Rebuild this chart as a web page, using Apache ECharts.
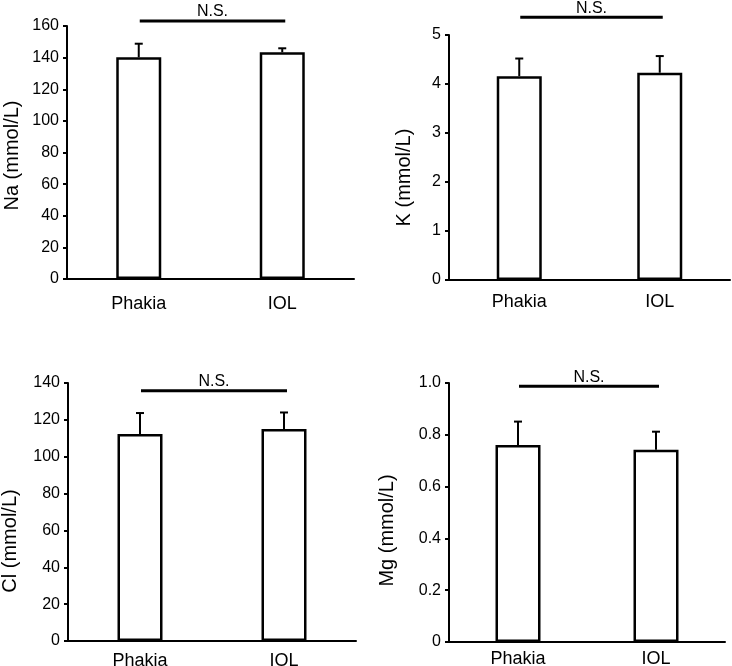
<!DOCTYPE html>
<html>
<head>
    <meta charset="utf-8">
    <title>Electrolytes</title>
    <script src="https://cdn.jsdelivr.net/npm/echarts@6/dist/echarts.min.js"></script>
    <style>
        html, body { margin: 0; padding: 0; background: #fff; }
        #main { width: 732px; height: 666px; }
    </style>
</head>
<body>
<div id="main"></div>
<script>
    // data
    var groups = ['Phakia', 'IOL'];

    var naMean = [140.2, 143.4];
    var naErr = [8.6, 2.5];

    var kMean = [4.16, 4.23];
    var kErr = [0.36, 0.34];

    var clMean = [112.3, 115.1];
    var clErr = [11.4, 8.9];

    var mgMean = [0.761, 0.742];
    var mgErr = [0.09, 0.07];

    // height of the N.S. bracket, in axis units
    var nsLevel = [163.2, 5.36, 135.8, 0.987];

    var panels = [
        {name: 'Na (mmol/L)', mean: naMean, err: naErr, max: 160, interval: 20,
            grid: {left: 67, top: 26, width: 287, height: 253}, nameGap: 45, shift: 3, catMargin: 16},
        {name: 'K (mmol/L)', mean: kMean, err: kErr, max: 5, interval: 1,
            grid: {left: 449, top: 35, width: 281, height: 245}, nameGap: 35, shift: 20, catMargin: 13},
        {name: 'Cl (mmol/L)', mean: clMean, err: clErr, max: 140, interval: 20,
            grid: {left: 68, top: 383, width: 288, height: 258}, nameGap: 48, shift: 29, catMargin: 11},
        {name: 'Mg (mmol/L)', mean: mgMean, err: mgErr, max: 1, interval: 0.2,
            grid: {left: 449, top: 383, width: 276, height: 259}, nameGap: 52, shift: 18, catMargin: 8}
    ];

    var font = '"Liberation Sans", Arial, sans-serif';

    function errorItem(params, api) {
        var x = api.value(0);
        var y = api.value(1);
        var e = api.value(2);
        var base = api.coord([x, y]);
        var top = api.coord([x, y + e]);
        return {
            type: 'group',
            children: [
                {type: 'line', shape: {x1: top[0], y1: top[1], x2: base[0], y2: base[1]},
                    style: {stroke: '#000', lineWidth: 2}},
                {type: 'line', shape: {x1: top[0] - 4, y1: top[1], x2: top[0] + 4, y2: top[1]},
                    style: {stroke: '#000', lineWidth: 2}}
            ]
        };
    }

    function nsItem(params, api) {
        var lv = api.value(2);
        var a = api.coord([api.value(0), lv]);
        var b = api.coord([api.value(1), lv]);
        return {
            type: 'group',
            children: [
                {type: 'line', shape: {x1: a[0] + 1, y1: a[1], x2: b[0] + 3, y2: b[1]},
                    style: {stroke: '#000', lineWidth: 3}},
                {type: 'text', x: (a[0] + b[0]) / 2 + 2, y: a[1] - 9,
                    style: {text: 'N.S.', font: '16px ' + font, fill: '#000',
                        textAlign: 'center', textVerticalAlign: 'middle'}}
            ]
        };
    }

    var grid = [], xAxis = [], yAxis = [], series = [];

    panels.forEach(function (p, i) {
        grid.push(Object.assign({outerBoundsMode: 'none', containLabel: false}, p.grid));

        xAxis.push({
            type: 'category', gridIndex: i, data: groups,
            axisLine: {show: true, lineStyle: {color: '#000', width: 2}},
            axisTick: {show: false},
            axisLabel: {color: '#000', fontSize: 18, fontFamily: font, margin: p.catMargin},
            splitLine: {show: false}
        });

        yAxis.push({
            type: 'value', gridIndex: i, min: 0, max: p.max, interval: p.interval,
            name: p.name, nameLocation: 'middle', nameGap: p.nameGap, nameRotate: 90,
            nameTextStyle: {color: '#000', fontSize: 20, fontFamily: font,
                padding: [0, p.shift * 2, 0, 0]},
            axisLine: {show: true, lineStyle: {color: '#000', width: 2}},
            axisTick: {show: true, inside: false, length: 4, lineStyle: {color: '#000', width: 2}},
            axisLabel: {color: '#000', fontSize: 16, fontFamily: font, margin: 8,
                formatter: function (v) {
                    if (p.interval < 1) return v === 0 ? '0' : v.toFixed(1);
                    return String(v);
                }},
            splitLine: {show: false}
        });

        series.push({
            type: 'bar', xAxisIndex: i, yAxisIndex: i, data: p.mean,
            barWidth: 45,
            itemStyle: {color: '#fff', borderColor: '#000', borderWidth: 2.5},
            silent: true, z: 2
        });

        series.push({
            type: 'custom', xAxisIndex: i, yAxisIndex: i, renderItem: errorItem,
            data: groups.map(function (g, k) { return [k, p.mean[k], p.err[k]]; }),
            clip: false, silent: true, z: 3
        });

        series.push({
            type: 'custom', xAxisIndex: i, yAxisIndex: i, renderItem: nsItem,
            data: [[0, 1, nsLevel[i]]],
            clip: false, silent: true, z: 3
        });
    });

    var myChart = echarts.init(document.getElementById('main'), null, {renderer: 'canvas'});
    myChart.setOption({
        animation: false,
        backgroundColor: '#fff',
        grid: grid,
        xAxis: xAxis,
        yAxis: yAxis,
        series: series
    });
</script>
</body>
</html>
